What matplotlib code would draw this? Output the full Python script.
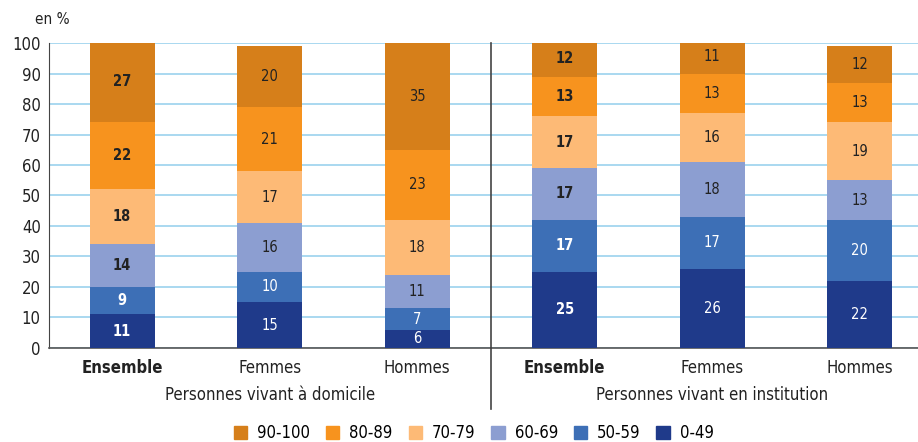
import numpy as np
import matplotlib
matplotlib.use("Agg")
import matplotlib.pyplot as plt
from matplotlib.patches import Patch

plt.rcParams['font.family'] = ['DejaVu Sans']
plt.rcParams['font.stretch'] = 'condensed'

# part de chaque tranche de score, en %
categories = ['Ensemble', 'Femmes', 'Hommes', 'Ensemble', 'Femmes', 'Hommes']
groups = ['Personnes vivant à domicile', 'Personnes vivant en institution']
tranches = ['0-49', '50-59', '60-69', '70-79', '80-89', '90-100']
v_0_49 = [11, 15, 6, 25, 26, 22]
v_50_59 = [9, 10, 7, 17, 17, 20]
v_60_69 = [14, 16, 11, 17, 18, 13]
v_70_79 = [18, 17, 18, 17, 16, 19]
v_80_89 = [22, 21, 23, 13, 13, 13]
v_90_100 = [27, 20, 35, 12, 11, 12]
series = [v_0_49, v_50_59, v_60_69, v_70_79, v_80_89, v_90_100]

colors = ['#1f3a8a', '#3d6fb6', '#8c9ed1', '#fdba76', '#f7931e', '#d67f1a']
txt_colors = ['white', 'white', '#222222', '#222222', '#222222', '#222222']
bold = [True, False, False, True, False, False]

fig = plt.figure(figsize=(9.18, 4.42), dpi=100)
ax = fig.add_axes([0.0534, 0.2127, 0.9466, 0.69])

x = np.arange(len(categories))
bottom = np.zeros(len(categories))
for vals, col, tc in zip(series, colors, txt_colors):
    vals = np.array(vals, dtype=float)
    ax.bar(x, vals, width=0.44, bottom=bottom, color=col, zorder=3)
    for i, v in enumerate(vals):
        ax.text(x[i], bottom[i] + v / 2, '%d' % v, ha='center', va='center',
                fontsize=10.5, color=tc, zorder=4,
                fontweight='bold' if bold[i] else 'normal')
    bottom += vals

ax.set_xlim(-0.495, 5.395)
ax.set_ylim(0, 100)
ax.set_yticks(range(0, 101, 10))
ax.tick_params(axis='y', length=0, labelsize=12, pad=6, labelcolor='#222222')
ax.set_xticks([])
ax.yaxis.grid(True, color='#a9d8f0', linewidth=1.4, zorder=0)
for s in ['top', 'right']:
    ax.spines[s].set_visible(False)
ax.spines['left'].set_color('#444444')
ax.spines['bottom'].set_color('#555555')
ax.spines['bottom'].set_linewidth(1.2)

# séparateur entre les deux populations
ax.plot([2.5, 2.5], [0, 100], color='#444444', linewidth=1.2, clip_on=False, zorder=5)
ax.plot([2.5, 2.5], [0, -20], color='#444444', linewidth=1.2, clip_on=False, zorder=5)

for i, c in enumerate(categories):
    ax.text(x[i], -6.5, c, ha='center', va='center', fontsize=12, color='#222222',
            fontweight='bold' if bold[i] else 'normal')
ax.text(1, -15.3, groups[0], ha='center', va='center', fontsize=12, color='#222222')
ax.text(4, -15.3, groups[1], ha='center', va='center', fontsize=12, color='#222222')

fig.text(0.038, 0.955, 'en %', fontsize=11, color='#222222', ha='left', va='center')

handles = [Patch(color=c, label=t) for c, t in zip(colors, tranches)]
handles = handles[::-1]
fig.legend(handles=handles, loc='center', bbox_to_anchor=(0.516, 0.02), ncol=6,
           frameon=False, fontsize=12, handlelength=0.8, handleheight=0.8,
           handletextpad=0.6, columnspacing=0.95)

fig.savefig('out.png', dpi=100)
